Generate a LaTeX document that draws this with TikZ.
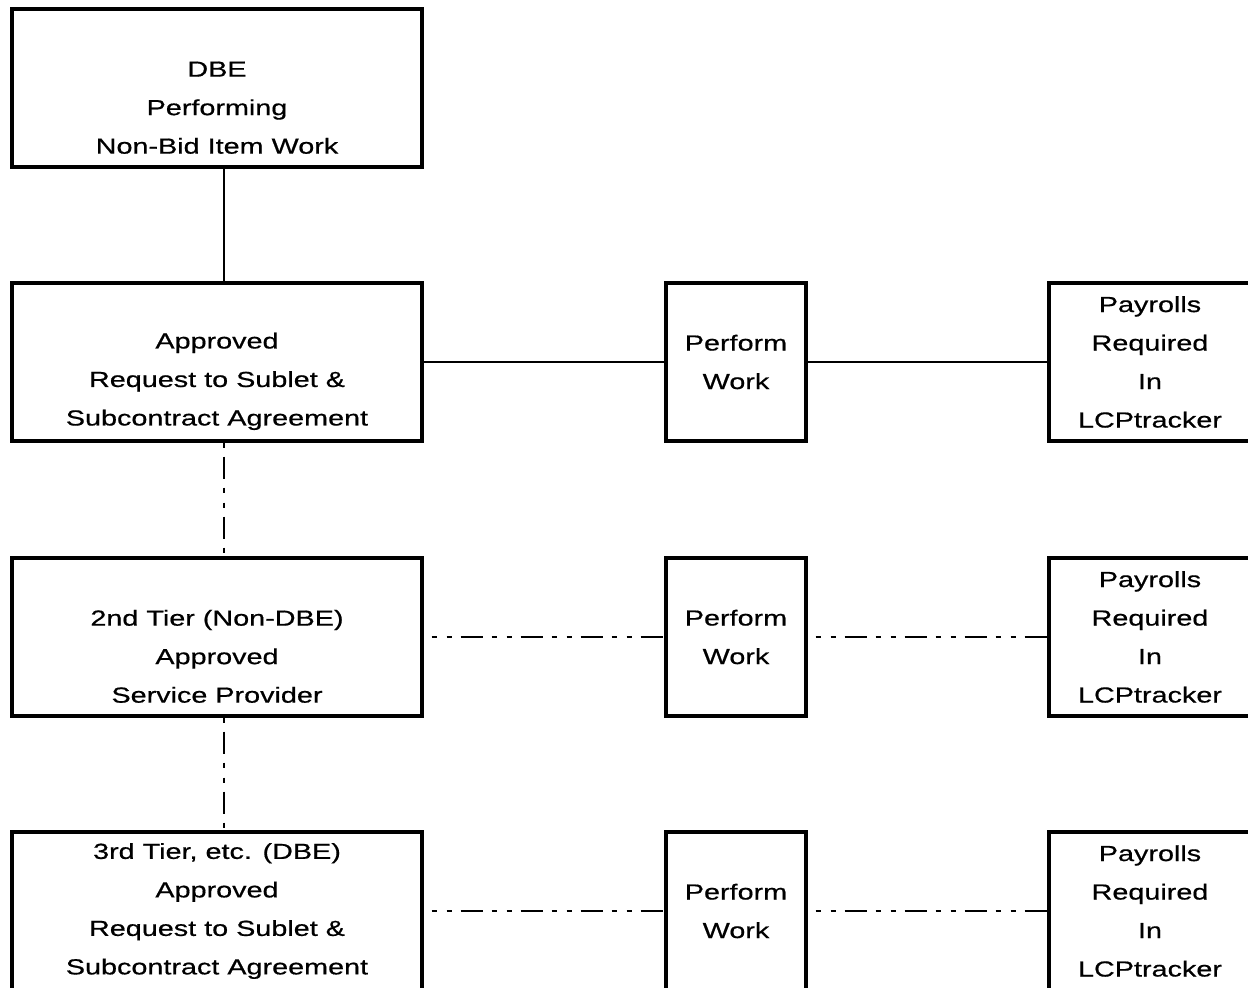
\documentclass[tikz,border=0pt]{standalone}
\usepackage{fontspec}
\setmainfont{Liberation Sans}[FakeStretch=1.32,FakeBold=0.6]

\tikzset{
  tierbox/.style={draw, line width=1.6pt, minimum width=205pt, minimum height=79pt, align=center, inner sep=0pt},
  workbox/.style={draw, line width=1.6pt, minimum width=70pt, minimum height=79pt, align=center, inner sep=0pt},
  paybox/.style={draw, line width=1.6pt, minimum width=101pt, minimum height=79pt, align=center, inner sep=0pt},
  tierlink/.style={line width=1.3pt, dash pattern=on 2.5pt off 5pt on 2.5pt off 4.5pt on 11pt off 4.5pt, dash phase=26pt},
}

\begin{document}
\begin{tikzpicture}[x=0.5pt,y=-0.5pt,font=\fontsize{10.9}{19.25}\selectfont]
    \path[use as bounding box, clip] (0,0) rectangle (1248,988);
    \node[tierbox] (dbe) at (217,88) {\rule{0pt}{8pt}\\DBE\\Performing\\Non-Bid Item Work};
    \node[tierbox] (app) at (217,362) {\rule{0pt}{8pt}\\Approved\\Request to Sublet \&\\Subcontract Agreement};
    \node[tierbox] (tier2) at (217,637) {\rule{0pt}{8pt}\\2nd Tier (Non-DBE)\\Approved\\Service Provider};
    \node[tierbox] (tier3) at (217,911) {3rd Tier, etc. (DBE)\\Approved\\Request to Sublet \&\\Subcontract Agreement};
    \node[workbox] (work1) at (736,362) {Perform\\Work};
    \node[workbox] (work2) at (736,637) {Perform\\Work};
    \node[workbox] (work3) at (736,911) {Perform\\Work};
    \node[paybox] (pay1) at (1150,362) {Payrolls\\Required\\In\\LCPtracker};
    \node[paybox] (pay2) at (1150,637) {Payrolls\\Required\\In\\LCPtracker};
    \node[paybox] (pay3) at (1150,911) {Payrolls\\Required\\In\\LCPtracker};
    \draw[line width=1.2pt] ([xshift=3.5pt]dbe.south) -- ([xshift=3.5pt]app.north);
    \draw[tierlink, dash phase=7.5pt] ([xshift=3.5pt]app.south) -- ([xshift=3.5pt]tier2.north);
    \draw[tierlink, dash phase=7.5pt] ([xshift=3.5pt]tier2.south) -- ([xshift=3.5pt]tier3.north);
    \draw[line width=1.2pt] (app.east) -- (work1.west);
    \draw[line width=1.2pt] (work1.east) -- (pay1.west);
    \draw[tierlink] (tier2.east) -- (work2.west);
    \draw[tierlink] (work2.east) -- (pay2.west);
    \draw[tierlink] (tier3.east) -- (work3.west);
    \draw[tierlink] (work3.east) -- (pay3.west);
\end{tikzpicture}
\end{document}
